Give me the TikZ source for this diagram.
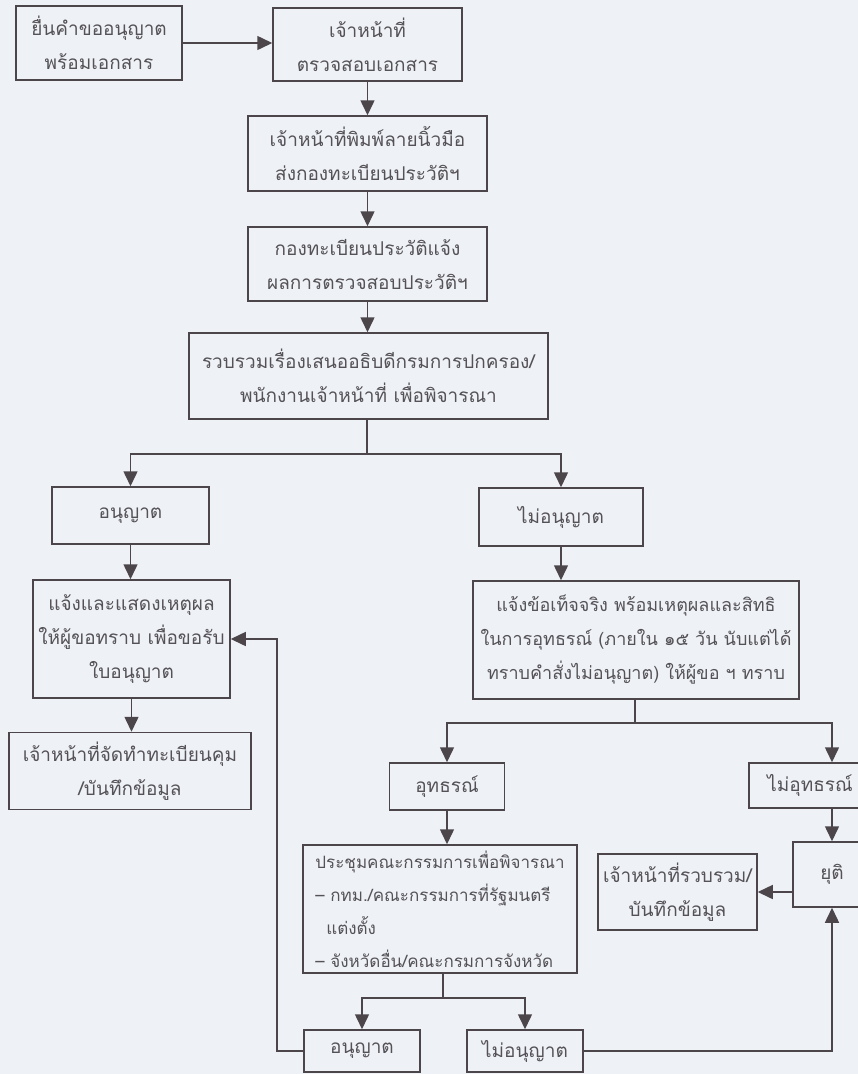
\documentclass[tikz,border=0pt]{standalone}
\usepackage{fontspec}
\usepackage{xcolor}
\usetikzlibrary{arrows.meta}
\newfontfamily\thaifont[Script=Thai]{Loma}
\definecolor{paper}{RGB}{238,241,246}
\definecolor{ink}{RGB}{76,70,74}
\definecolor{textgray}{RGB}{84,82,86}

\begin{document}
\begin{tikzpicture}[x=1pt, y=-1pt,
  every node/.style={font=\thaifont\fontsize{19}{34}\selectfont, text=textgray},
  flowbox/.style={draw=ink, line width=1.5pt, fill=paper, align=center, inner sep=0pt},
  arrow/.style={draw=ink, line width=1.5pt, -{Triangle[width=14pt,length=15pt]}},
  link/.style={draw=ink, line width=1.5pt}]
\fill[paper] (0,0) rectangle (858,1074);
\useasboundingbox (0,0) rectangle (858,1074);
% main chain
\node[flowbox, minimum width=166pt, minimum height=74pt] (apply) at (99,43) {ยื่นคำขออนุญาต\\พร้อมเอกสาร};
\node[flowbox, minimum width=189pt, minimum height=73pt] (check) at (367.5,44.5) {เจ้าหน้าที่\\ตรวจสอบเอกสาร};
\node[flowbox, minimum width=239pt, minimum height=75pt] (finger) at (367.5,153.5) {เจ้าหน้าที่พิมพ์ลายนิ้วมือ\\ส่งกองทะเบียนประวัติฯ};
\node[flowbox, minimum width=239pt, minimum height=74pt] (result) at (367.5,264) {กองทะเบียนประวัติแจ้ง\\ผลการตรวจสอบประวัติฯ};
\node[flowbox, minimum width=359pt, minimum height=86pt] (propose) at (368.5,376) {รวบรวมเรื่องเสนออธิบดีกรมการปกครอง/\\พนักงานเจ้าหน้าที่ เพื่อพิจารณา};
\coordinate (fork1) at (367,454);
% left branch
\node[flowbox, minimum width=157pt, minimum height=57pt] (permit) at (130.5,515.5) {อนุญาต};
\node[flowbox, minimum width=197pt, minimum height=118pt] (notify) at (131.5,639) {แจ้งและแสดงเหตุผล\\ให้ผู้ขอทราบ เพื่อขอรับ\\ใบอนุญาต};
\node[flowbox, minimum width=242pt, minimum height=77pt] (staffreg) at (130,771) {เจ้าหน้าที่จัดทำทะเบียนคุม\\/บันทึกข้อมูล};
% right branch
\node[flowbox, minimum width=164pt, minimum height=58pt] (deny) at (561,517) {ไม่อนุญาต};
\node[flowbox, minimum width=326pt, minimum height=118pt,
  font=\thaifont\fontsize{18}{34}\selectfont] (facts) at (636,640) {แจ้งข้อเท็จจริง พร้อมเหตุผลและสิทธิ\\ในการอุทธรณ์ (ภายใน ๑๕ วัน นับแต่ได้\\ทราบคำสั่งไม่อนุญาต) ให้ผู้ขอ ฯ ทราบ};
\coordinate (fork2) at (635,723);
\node[flowbox, minimum width=115pt, minimum height=47pt] (appeal) at (447,786.5) {อุทธรณ์};
\node[flowbox, minimum width=122pt, minimum height=45pt] (noappeal) at (810,785.5) {ไม่อุทธรณ์};
\node[flowbox, minimum width=78pt, minimum height=65pt] (stop) at (832,874.5) {ยุติ};
\node[flowbox, minimum width=159pt, minimum height=76pt] (record) at (677.5,892) {เจ้าหน้าที่รวบรวม/\\บันทึกข้อมูล};
\node[flowbox, minimum width=274pt, minimum height=128pt, align=left,
  font=\thaifont\fontsize{17}{33}\selectfont] (meeting) at (440,909) {ประชุมคณะกรรมการเพื่อพิจารณา\\– กทม./คณะกรรมการที่รัฐมนตรี\\\hspace*{11pt}แต่งตั้ง\\– จังหวัดอื่น/คณะกรมการจังหวัด};
\coordinate (fork3) at (443,998);
\node[flowbox, minimum width=116pt, minimum height=42pt] (okfinal) at (362,1051) {อนุญาต};
\node[flowbox, minimum width=116pt, minimum height=42pt] (nofinal) at (525,1051) {ไม่อนุญาต};
\coordinate (loopback) at (277,639);
% connectors
\draw[arrow] (apply.east) -- (apply.east -| check.west);
\draw[arrow] (check.south) -- (check.south |- finger.north);
\draw[arrow] (finger.south) -- (finger.south |- result.north);
\draw[arrow] (result.south) -- (result.south |- propose.north);
\draw[link] (propose.south -| fork1) -- (fork1);
\draw[arrow] (fork1) -| (permit.north);
\draw[arrow] (fork1) -| (deny.north);
\draw[arrow] (permit.south) -- (permit.south |- notify.north);
\draw[arrow] (notify.south) -- (notify.south |- staffreg.north);
\draw[arrow] (deny.south) -- (deny.south |- facts.north);
\draw[link] (facts.south -| fork2) -- (fork2);
\draw[arrow] (fork2) -| (appeal.north);
\draw[arrow] (fork2) -| (stop.north |- noappeal.north);
\draw[arrow] (noappeal.south -| stop.north) -- (stop.north);
\draw[arrow] (stop.west |- record.east) -- (record.east);
\draw[arrow] (appeal.south) -- (appeal.south |- meeting.north);
\draw[link] (meeting.south -| fork3) -- (fork3);
\draw[arrow] (fork3) -| (okfinal.north);
\draw[arrow] (fork3) -| (nofinal.north);
\draw[arrow] (nofinal.east) -| (stop.south);
\draw[arrow] (okfinal.west) -| (loopback) -- (loopback -| notify.east);
\end{tikzpicture}
\end{document}
